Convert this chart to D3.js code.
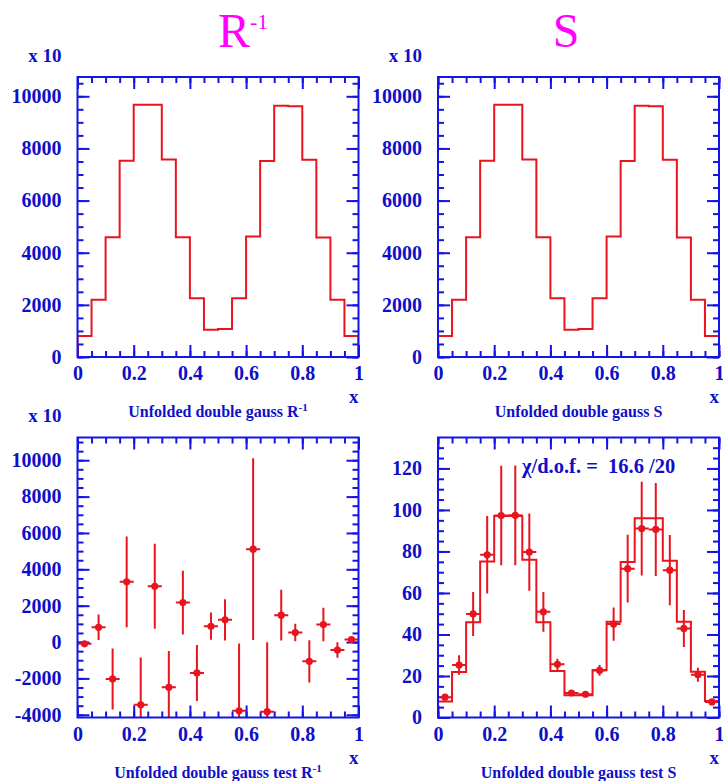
<!DOCTYPE html>
<html>
<head>
<meta charset="utf-8">
<script src="https://cdn.jsdelivr.net/npm/d3@7"></script>
<style>
  body { margin: 0; background: #fff; }
  text { font-family: "Liberation Serif", "Times New Roman", serif; }
</style>
</head>
<body>
<svg id="chart" width="723" height="781"></svg>
<script>
// bin centres of the 20 bins on [0, 1]
const binCenters = [0.025, 0.075, 0.125, 0.175, 0.225, 0.275, 0.325, 0.375, 0.425, 0.475,
                    0.525, 0.575, 0.625, 0.675, 0.725, 0.775, 0.825, 0.875, 0.925, 0.975];
const binWidth = 0.05;

// top panels (in units of x 10)
const unfoldedR = [810, 2200, 4590, 7530, 9680, 9680, 7580, 4590, 2250, 1050,
                   1070, 2250, 4620, 7520, 9640, 9620, 7570, 4580, 2200, 810];
const unfoldedS = [810, 2200, 4590, 7530, 9680, 9680, 7580, 4590, 2250, 1050,
                   1070, 2250, 4620, 7520, 9640, 9620, 7570, 4580, 2200, 810];

// bottom left: test with R^-1 (x 10)
const testR    = [-100, 810, -2030, 3310, -3450, 3070, -2490, 2170, -1700, 870,
                  1220, -3780, 5110, -3830, 1480, 520, -1060, 960, -440, 140];
const testRErr = [40, 700, 1680, 2500, 2600, 2340, 2000, 1750, 1540, 750,
                  1130, 3700, 5000, 3820, 1400, 480, 1160, 920, 430, 60];

// bottom right: test with S, plus the true histogram
const testS    = [9.8, 25.3, 49.9, 78.4, 97.3, 97.4, 79.7, 50.9, 25.6, 11.8,
                  11.2, 22.7, 45.0, 71.7, 91.0, 90.6, 71.0, 42.9, 20.6, 7.5];
const testSErr = [1.5, 4.7, 10.6, 18.7, 24.0, 24.0, 18.6, 9.6, 2.7, 0.8,
                  0.8, 2.6, 8.0, 16.3, 22.6, 22.4, 16.9, 8.9, 3.4, 0.8];
const trueS    = [7.7, 21.9, 45.9, 75.2, 97.1, 97.1, 76.0, 45.9, 22.4, 10.7,
                  10.7, 22.9, 46.1, 74.9, 96.0, 96.0, 75.5, 46.1, 22.1, 8.0];

const xTicks = [0, 0.2, 0.4, 0.6, 0.8, 1];
const xTickLabels = ["0", "0.2", "0.4", "0.6", "0.8", "1"];
const yTicksTop = [0, 2000, 4000, 6000, 8000, 10000];
const yTicksTestR = [-4000, -2000, 0, 2000, 4000, 6000, 8000, 10000];
const yTicksTestS = [0, 20, 40, 60, 80, 100, 120];

const BLUE = "#1414e6";
const TEXTBLUE = "#0f0fc8";
const RED = "#e8141e";
const PW = 281, PH = 280;

const svg = d3.select("#chart");

function panel(o) {
  const g = svg.append("g");
  const x = d3.scaleLinear().domain([0, 1]).range([o.left, o.left + PW]);
  const y = d3.scaleLinear().domain(o.yDomain).range([o.top + PH, o.top]);
  const clipId = "clip" + o.id;
  svg.append("clipPath").attr("id", clipId)
    .append("rect").attr("x", o.left).attr("y", o.top).attr("width", PW).attr("height", PH);

  const xMinor = d3.range(0, 1.0001, 0.05);
  const yMinor = d3.range(Math.ceil(o.yDomain[0] / o.yMinorStep) * o.yMinorStep, o.yDomain[1], o.yMinorStep);

  const axes = [
    [d3.axisBottom(x).tickValues(xTicks).tickSize(-12).tickPadding(9).tickFormat((d, i) => xTickLabels[i]), 0, o.top + PH],
    [d3.axisBottom(x).tickValues(xMinor).tickSize(-6).tickFormat(""), 0, o.top + PH],
    [d3.axisTop(x).tickValues(xTicks).tickSize(-12).tickFormat(""), 0, o.top],
    [d3.axisTop(x).tickValues(xMinor).tickSize(-6).tickFormat(""), 0, o.top],
    [d3.axisLeft(y).tickValues(o.yTicks).tickSize(-12).tickPadding(16).tickFormat(d => String(d)), o.left, 0],
    [d3.axisLeft(y).tickValues(yMinor).tickSize(-6).tickFormat(""), o.left, 0],
    [d3.axisRight(y).tickValues(o.yTicks).tickSize(-12).tickFormat(""), o.left + PW, 0],
    [d3.axisRight(y).tickValues(yMinor).tickSize(-6).tickFormat(""), o.left + PW, 0]
  ];
  axes.forEach(([ax, tx, ty]) => {
    const a = g.append("g").attr("transform", `translate(${tx},${ty})`).call(ax.tickSizeOuter(0));
    a.select(".domain").remove();
    a.selectAll("line").attr("stroke", BLUE).attr("stroke-width", 2);
    a.selectAll("text")
      .attr("fill", TEXTBLUE)
      .style("font-family", '"Liberation Serif", serif')
      .style("font-weight", "bold")
      .style("font-size", "20px");
  });

  const plot = g.append("g").attr("clip-path", `url(#${clipId})`);

  if (o.hist) {
    const pts = [[x(0), y(0)]];
    o.hist.forEach((v, i) => {
      pts.push([x(binCenters[i] - binWidth / 2), y(v)]);
      pts.push([x(binCenters[i] + binWidth / 2), y(v)]);
    });
    pts.push([x(1), y(0)]);
    plot.append("path")
      .attr("d", d3.line()(pts))
      .attr("fill", "none").attr("stroke", RED).attr("stroke-width", 2);
  }

  if (o.points) {
    const pg = plot.selectAll("g.pt").data(o.points).join("g").attr("class", "pt");
    pg.append("line")
      .attr("x1", (d, i) => x(binCenters[i])).attr("x2", (d, i) => x(binCenters[i]))
      .attr("y1", (d, i) => y(d + o.errors[i])).attr("y2", (d, i) => y(d - o.errors[i]))
      .attr("stroke", RED).attr("stroke-width", 2);
    pg.append("line")
      .attr("x1", (d, i) => x(binCenters[i] - binWidth / 2)).attr("x2", (d, i) => x(binCenters[i] + binWidth / 2))
      .attr("y1", d => y(d)).attr("y2", d => y(d))
      .attr("stroke", RED).attr("stroke-width", 2);
    pg.append("circle")
      .attr("cx", (d, i) => x(binCenters[i])).attr("cy", d => y(d))
      .attr("r", 3.6).attr("fill", RED);
  }

  g.append("rect")
    .attr("x", o.left).attr("y", o.top).attr("width", PW).attr("height", PH)
    .attr("fill", "none").attr("stroke", BLUE).attr("stroke-width", 2);

  if (o.exponent) {
    g.append("text")
      .attr("x", o.left - 16).attr("y", o.top - 15.5)
      .attr("text-anchor", "end")
      .attr("fill", TEXTBLUE).style("font-weight", "bold").style("font-size", "19px")
      .text("x 10");
  }

  g.append("text")
    .attr("x", o.left + PW).attr("y", o.top + PH + 46)
    .attr("text-anchor", "end")
    .attr("fill", TEXTBLUE).style("font-weight", "bold").style("font-size", "19px")
    .text("x");

  const st = g.append("text")
    .attr("x", o.left + PW / 2).attr("y", o.top + PH + 60)
    .attr("text-anchor", "middle")
    .attr("fill", TEXTBLUE).style("font-weight", "bold").style("font-size", "16px");
  st.append("tspan").text(o.subtitle);
  if (o.sup) st.append("tspan").attr("dy", -6).style("font-size", "11px").text(o.sup);

  return { x, y, g };
}

panel({ id: "tl", left: 77.5, top: 77, yDomain: [0, 10740], yTicks: yTicksTop, yMinorStep: 500,
        hist: unfoldedR, exponent: true, subtitle: "Unfolded double gauss R", sup: "-1" });
panel({ id: "tr", left: 438, top: 77, yDomain: [0, 10740], yTicks: yTicksTop, yMinorStep: 500,
        hist: unfoldedS, exponent: true, subtitle: "Unfolded double gauss S" });
panel({ id: "bl", left: 77.5, top: 437.5, yDomain: [-4150, 11250], yTicks: yTicksTestR, yMinorStep: 500,
        points: testR, errors: testRErr, exponent: true, subtitle: "Unfolded double gauss test R", sup: "-1" });
panel({ id: "br", left: 438, top: 437.5, yDomain: [0, 134.9], yTicks: yTicksTestS, yMinorStep: 5,
        hist: trueS, points: testS, errors: testSErr, subtitle: "Unfolded double gauss test S" });

svg.append("text")
  .attr("x", 522).attr("y", 473)
  .attr("fill", TEXTBLUE).style("font-weight", "bold").style("font-size", "20.5px")
  .attr("xml:space", "preserve")
  .text("\u03c7/d.o.f. =  16.6 /20");

// main titles
const t1 = svg.append("text").attr("x", 218).attr("y", 47)
  .attr("fill", "#ff00ff").style("font-size", "48px");
t1.append("tspan").text("R");
t1.append("tspan").attr("dy", -18).style("font-size", "22px").text("-1");

svg.append("text").attr("x", 566).attr("y", 47)
  .attr("text-anchor", "middle")
  .attr("fill", "#ff00ff").style("font-size", "48px")
  .text("S");
</script>
</body>
</html>
